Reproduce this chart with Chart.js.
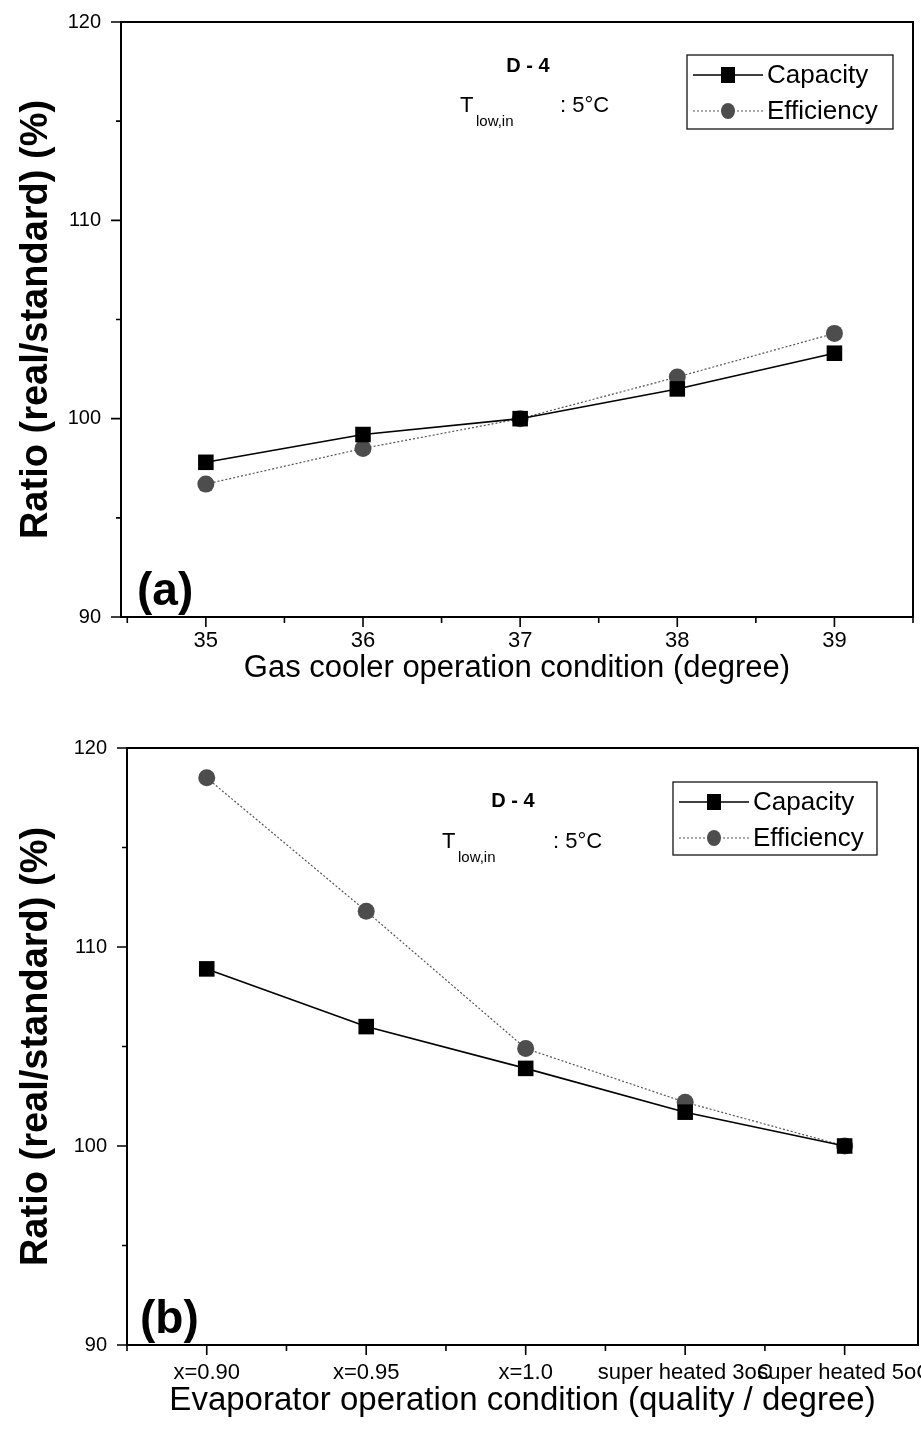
<!DOCTYPE html>
<html>
<head>
<meta charset="utf-8">
<script src="https://cdn.jsdelivr.net/npm/chart.js@4/dist/chart.umd.min.js"></script>
<style>
  body { margin: 0; background: #fff; }
  canvas { display: block; }
</style>
</head>
<body>
<canvas id="chartA" width="921" height="725"></canvas>
<canvas id="chartB" width="921" height="722"></canvas>
<script>
// ---- (a) gas cooler ----
const gasTemps = [35, 36, 37, 38, 39];
const gasCapacity = [97.8, 99.2, 100.0, 101.5, 103.3];
const gasEfficiency = [96.7, 98.5, 100.0, 102.1, 104.3];
const gasMinor = [34.5, 35.5, 36.5, 37.5, 38.5, 39.5];

// ---- (b) evaporator ----
const evapIdx = [0, 1, 2, 3, 4];
const evapLabels = ["x=0.90", "x=0.95", "x=1.0", "super heated 3oC", "super heated 5oC"];
const evapCapacity = [108.9, 106.0, 103.9, 101.7, 100.0];
const evapEfficiency = [118.5, 111.8, 104.9, 102.2, 100.0];
const evapMinor = [-0.5, 0.5, 1.5, 2.5, 3.5];

const yMajor = [90, 100, 110, 120];
const yMinor = [95, 105, 115];

const seriesNames = ["Capacity", "Efficiency"];
const caseName = "D - 4";
const tempText = [": 5°C", "T", "low,in"];

const FONT = '"Liberation Sans", Arial, sans-serif';

// box round the plot + tick marks pointing out
const frame = {
  id: "frame",
  beforeDatasetsDraw(chart, args, o) {
    const { ctx, chartArea: a, scales } = chart;
    ctx.save();
    ctx.strokeStyle = "#000";
    ctx.lineWidth = 2;
    ctx.strokeRect(a.left, a.top, a.right - a.left, a.bottom - a.top);
    ctx.lineWidth = 1.6;
    ctx.beginPath();
    const xt = (v, len) => {
      const p = scales.x.getPixelForValue(v);
      ctx.moveTo(p, a.bottom); ctx.lineTo(p, a.bottom + len);
    };
    const yt = (v, len) => {
      const p = scales.y.getPixelForValue(v);
      ctx.moveTo(a.left, p); ctx.lineTo(a.left - len, p);
    };
    o.xMajor.forEach(v => xt(v, 10));
    o.xMinor.forEach(v => xt(v, 6));
    yMajor.forEach(v => yt(v, 10));
    yMinor.forEach(v => yt(v, 5));
    ctx.stroke();
    ctx.restore();
  }
};

// panel letter, case text and the boxed legend
const notes = {
  id: "notes",
  afterDraw(chart, args, n) {
    const { ctx, chartArea: a } = chart;
    ctx.save();
    ctx.fillStyle = "#000";
    ctx.textBaseline = "alphabetic";

    ctx.font = "bold 46px " + FONT;
    ctx.textAlign = "left";
    ctx.fillText(n.panel, a.left + n.panelX, a.bottom - n.panelDy);

    ctx.font = "bold 20px " + FONT;
    ctx.textAlign = "center";
    ctx.fillText(caseName, a.left + n.caseX, a.top + n.caseY);

    ctx.textAlign = "left";
    ctx.font = "22px " + FONT;
    ctx.fillText(tempText[1], a.left + n.tX, a.top + n.tY);
    ctx.fillText(tempText[0], a.left + n.tX + n.colonDx, a.top + n.tY);
    ctx.font = "15px " + FONT;
    ctx.fillText(tempText[2], a.left + n.tX + 16, a.top + n.tY + 14);

    // legend
    const lx = a.left + n.legX, ly = a.top + n.legY;
    ctx.lineWidth = 1.2;
    ctx.strokeStyle = "#000";
    ctx.strokeRect(lx, ly, n.legW, n.legH);
    ctx.font = "26px " + FONT;
    ctx.textBaseline = "middle";
    chart.data.datasets.forEach((ds, i) => {
      const ry = ly + 20 + i * 36;
      ctx.save();
      ctx.strokeStyle = ds.borderColor;
      ctx.lineWidth = ds.borderWidth;
      ctx.setLineDash(ds.borderDash || []);
      ctx.beginPath();
      ctx.moveTo(lx + 6, ry); ctx.lineTo(lx + 76, ry);
      ctx.stroke();
      ctx.restore();
      ctx.fillStyle = ds.pointBackgroundColor;
      const mx = lx + 41;
      if (ds.pointStyle === "rect") {
        ctx.fillRect(mx - 7, ry - 8, 14, 16);
      } else {
        ctx.beginPath();
        ctx.ellipse(mx, ry, 7, 8, 0, 0, Math.PI * 2);
        ctx.fill();
      }
      ctx.fillStyle = "#000";
      ctx.fillText(ds.label, lx + 80, ry + 1);
    });
    ctx.restore();
  }
};

function makeDatasets(xs, cap, eff) {
  return [
    {
      label: seriesNames[0],
      data: xs.map((x, i) => ({ x: x, y: cap[i] })),
      borderColor: "#000",
      borderWidth: 1.6,
      pointStyle: "rect",
      pointRadius: 11,
      pointBackgroundColor: "#000",
      pointBorderColor: "#000",
      pointBorderWidth: 0
    },
    {
      label: seriesNames[1],
      data: xs.map((x, i) => ({ x: x, y: eff[i] })),
      borderColor: "#555",
      borderWidth: 1.2,
      borderDash: [2, 2],
      pointStyle: "circle",
      pointRadius: 8.5,
      pointBackgroundColor: "#4d4d4d",
      pointBorderColor: "#4d4d4d",
      pointBorderWidth: 0
    }
  ];
}

function makeChart(id, cfg) {
  return new Chart(document.getElementById(id), {
    type: "line",
    data: { datasets: makeDatasets(cfg.xs, cfg.cap, cfg.eff) },
    plugins: [frame, notes],
    options: {
      responsive: false,
      animation: false,
      layout: { padding: cfg.pad, autoPadding: false },
      plugins: {
        legend: { display: false },
        tooltip: { enabled: false },
        frame: { xMajor: cfg.xs, xMinor: cfg.minor },
        notes: cfg.notes
      },
      scales: {
        x: {
          type: "linear",
          min: cfg.xMin,
          max: cfg.xMax,
          afterBuildTicks: s => { s.ticks = cfg.xs.map(v => ({ value: v })); },
          afterFit: s => { s.height = cfg.xH; s.paddingLeft = 0; s.paddingRight = 0; },
          grid: { display: false, drawTicks: false },
          border: { display: false },
          ticks: {
            color: "#000",
            font: { family: FONT, size: cfg.tickSize },
            padding: cfg.tickPad,
            maxRotation: 0,
            autoSkip: false,
            callback: cfg.xLabel
          },
          title: {
            display: true,
            text: cfg.xTitle,
            color: "#000",
            font: { family: FONT, size: cfg.xTitleSize },
            padding: { top: 0, bottom: cfg.xTitlePad }
          }
        },
        y: {
          min: 90,
          max: 120,
          afterBuildTicks: s => { s.ticks = yMajor.map(v => ({ value: v })); },
          afterFit: s => { s.width = cfg.yW; s.paddingTop = 0; s.paddingBottom = 0; },
          grid: { display: false, drawTicks: false },
          border: { display: false },
          ticks: {
            color: "#000",
            font: { family: FONT, size: 20 },
            padding: 20
          },
          title: {
            display: true,
            text: "Ratio (real/standard) (%)",
            color: "#000",
            font: { family: FONT, size: 38, weight: "bold" },
            padding: { top: 14, bottom: 0 }
          }
        }
      }
    }
  });
}

makeChart("chartA", {
  xs: gasTemps, cap: gasCapacity, eff: gasEfficiency, minor: gasMinor,
  xMin: 34.46, xMax: 39.5,
  pad: { left: 0, right: 8, top: 22, bottom: 0 },
  yW: 121, xH: 108,
  tickSize: 22, tickPad: 11,
  xLabel: v => String(v),
  xTitle: "Gas cooler operation condition (degree)",
  xTitleSize: 31, xTitlePad: 38,
  notes: {
    panel: "(a)", panelX: 16, panelDy: 12,
    caseX: 407, caseY: 50,
    tX: 339, tY: 90, colonDx: 100,
    legX: 566, legY: 33, legW: 206, legH: 74
  }
});

makeChart("chartB", {
  xs: evapIdx, cap: evapCapacity, eff: evapEfficiency, minor: evapMinor,
  xMin: -0.5, xMax: 4.46,
  pad: { left: 0, right: 3, top: 23, bottom: 0 },
  yW: 127, xH: 102,
  tickSize: 22, tickPad: 15,
  xLabel: v => evapLabels[v] ?? "",
  xTitle: "Evaporator operation condition (quality / degree)",
  xTitleSize: 33, xTitlePad: 26,
  notes: {
    panel: "(b)", panelX: 13, panelDy: 12,
    caseX: 386, caseY: 59,
    tX: 315, tY: 100, colonDx: 111,
    legX: 546, legY: 34, legW: 204, legH: 73
  }
});
</script>
</body>
</html>
